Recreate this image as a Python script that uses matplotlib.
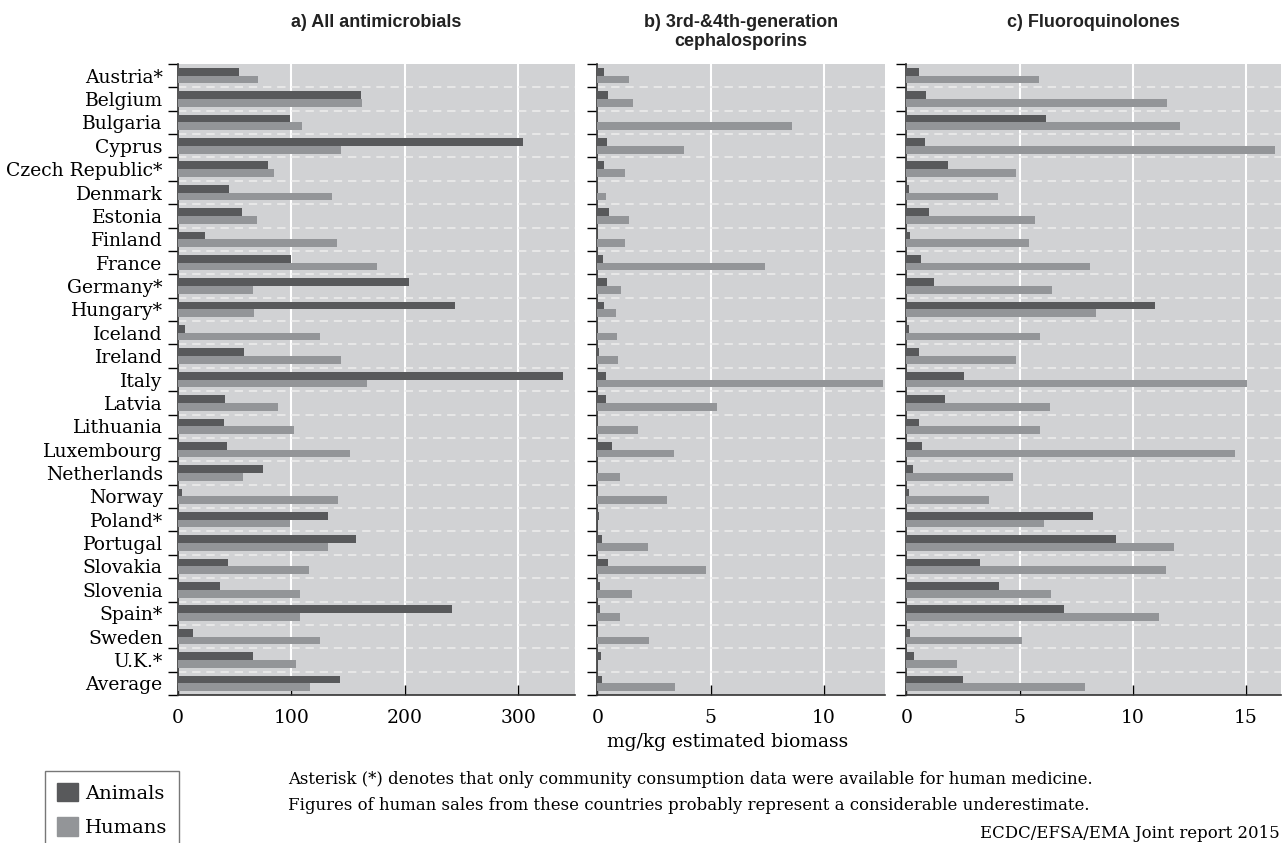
import numpy as np
import matplotlib.pyplot as plt
from matplotlib.patches import Patch

countries = ["Austria*", "Belgium", "Bulgaria", "Cyprus", "Czech Republic*", "Denmark",
             "Estonia", "Finland", "France", "Germany*", "Hungary*", "Iceland", "Ireland",
             "Italy", "Latvia", "Lithuania", "Luxembourg", "Netherlands", "Norway",
             "Poland*", "Portugal", "Slovakia", "Slovenia", "Spain*", "Sweden", "U.K.*",
             "Average"]

# a) all antimicrobials, mg/kg
all_animals = [54, 161, 98.5, 304, 79, 44.7, 56, 23.5, 99.4, 203.5, 244, 5.9, 58,
               339.4, 41.2, 40.3, 43, 74.7, 3.2, 132, 156.8, 43.8, 36.8, 241.5, 12.9, 65.9,
               142.6]
all_humans = [70.3, 162, 109, 144, 84.4, 135.6, 69.4, 140, 175, 65.9, 66.8, 125, 144,
              166.5, 88, 102, 152, 57, 141, 98.5, 132, 115.3, 107.4, 107.4, 125, 103.8,
              116.2]

# b) 3rd- & 4th-generation cephalosporins
ceph_animals = [0.29, 0.47, 0, 0.43, 0.29, 0, 0.52, 0, 0.25, 0.43, 0.29, 0, 0.07,
                0.38, 0.38, 0, 0.65, 0, 0, 0.07, 0.2, 0.47, 0.12, 0.12, 0, 0.16, 0.2]
ceph_humans = [1.4, 1.58, 8.61, 3.83, 1.22, 0.38, 1.4, 1.22, 7.42, 1.05, 0.83, 0.87, 0.91,
               12.6, 5.3, 1.8, 3.39, 1.0, 3.08, 0, 2.24, 4.81, 1.53, 1.0, 2.29, 0, 3.44]

# c) fluoroquinolones
fq_animals = [0.56, 0.87, 6.18, 0.83, 1.84, 0.12, 1.0, 0.16, 0.65, 1.22, 11.0, 0.12, 0.56,
              2.55, 1.71, 0.56, 0.69, 0.29, 0.12, 8.26, 9.28, 3.26, 4.1, 6.98, 0.16, 0.34,
              2.51]
fq_humans = [5.87, 11.53, 12.1, 16.3, 4.85, 4.06, 5.69, 5.43, 8.13, 6.45, 8.39, 5.91, 4.85,
             15.03, 6.36, 5.91, 14.5, 4.72, 3.66, 6.09, 11.84, 11.49, 6.4, 11.14, 5.12, 2.24,
             7.9]

panels = [
    ("a) All antimicrobials", all_animals, all_humans, 350, [0, 100, 200, 300]),
    ("b) 3rd-&4th-generation\ncephalosporins", ceph_animals, ceph_humans, 12.7, [0, 5, 10]),
    ("c) Fluoroquinolones", fq_animals, fq_humans, 16.55, [0, 5, 10, 15]),
]

DARK = "#58595b"
LIGHT = "#939598"
BG = "#d1d2d4"
SERIF = "DejaVu Serif"

W, H = 1282, 843
fig = plt.figure(figsize=(W / 100, H / 100), dpi=100)

lefts = [178, 597.3, 906.3]
rights = [575, 885, 1281]
centers = [376, 741, 1093]
top, bottom = 64, 695

n = len(countries)
y = np.arange(n)
bh = 0.33

for i, (title, an, hu, xmax, xt) in enumerate(panels):
    ax = fig.add_axes([lefts[i] / W, 1 - bottom / H, (rights[i] - lefts[i]) / W,
                       (bottom - top) / H])
    ax.set_facecolor(BG)
    ax.barh(y - bh / 2, an, height=bh, color=DARK, zorder=3)
    ax.barh(y + bh / 2, hu, height=bh, color=LIGHT, zorder=3)
    ax.set_xlim(0, xmax)
    ax.set_ylim(n - 0.5, -0.5)

    # dashed separators between countries, white lines at x ticks
    for b in np.arange(n - 1) + 0.5:
        ax.axhline(b, color="#ececec", lw=1.2, ls=(0, (5, 3.5)), zorder=2)
    for v in xt[1:]:
        ax.axvline(v, color="white", lw=1.5, zorder=1)

    ax.set_yticks(np.arange(n + 1) - 0.5)
    ax.set_yticklabels([])
    ax.set_yticks(y, minor=True)
    if i == 0:
        ax.set_yticklabels(countries, minor=True, fontsize=13.5, family=SERIF)
    ax.tick_params(axis="y", which="major", direction="out", length=7, width=1)
    ax.tick_params(axis="y", which="minor", length=0, pad=11)

    ax.set_xticks(xt)
    ax.set_xticklabels([str(v) for v in xt], fontsize=13.5, family=SERIF)
    ax.tick_params(axis="x", direction="in", length=7, width=1, pad=10)

    for s in ["top", "right"]:
        ax.spines[s].set_visible(False)
    for s in ["left", "bottom"]:
        ax.spines[s].set_color("#333333")
        ax.spines[s].set_linewidth(1.2)

    fig.text(centers[i] / W, 1 - 14 / H, title, ha="center", va="top", fontsize=13,
             family="Liberation Sans", weight="bold", color="#222222", linespacing=1.15)

fig.text(728 / W, 1 - 742 / H, "mg/kg estimated biomass", ha="center", va="center",
         fontsize=13.5, family=SERIF)

fig.text(288 / W, 1 - 779 / H,
         "Asterisk (*) denotes that only community consumption data were available for human medicine.",
         ha="left", va="center", fontsize=11.9, family=SERIF)
fig.text(288 / W, 1 - 805 / H,
         "Figures of human sales from these countries probably represent a considerable underestimate.",
         ha="left", va="center", fontsize=11.9, family=SERIF)
fig.text(1280 / W, 1 - 833 / H, "ECDC/EFSA/EMA Joint report 2015", ha="right",
         va="center", fontsize=11.9, family=SERIF)

handles = [Patch(color=DARK, label="Animals"), Patch(color=LIGHT, label="Humans")]
fig.legend(handles=handles, loc="upper left", bbox_to_anchor=(45 / W, 1 - 771 / H),
           borderaxespad=0, frameon=True, fancybox=False, edgecolor="#555555",
           handlelength=1.1, handleheight=1.1, handletextpad=0.35, borderpad=0.6,
           labelspacing=0.75, prop={"family": SERIF, "size": 14})

fig.savefig("out.png", dpi=100)
